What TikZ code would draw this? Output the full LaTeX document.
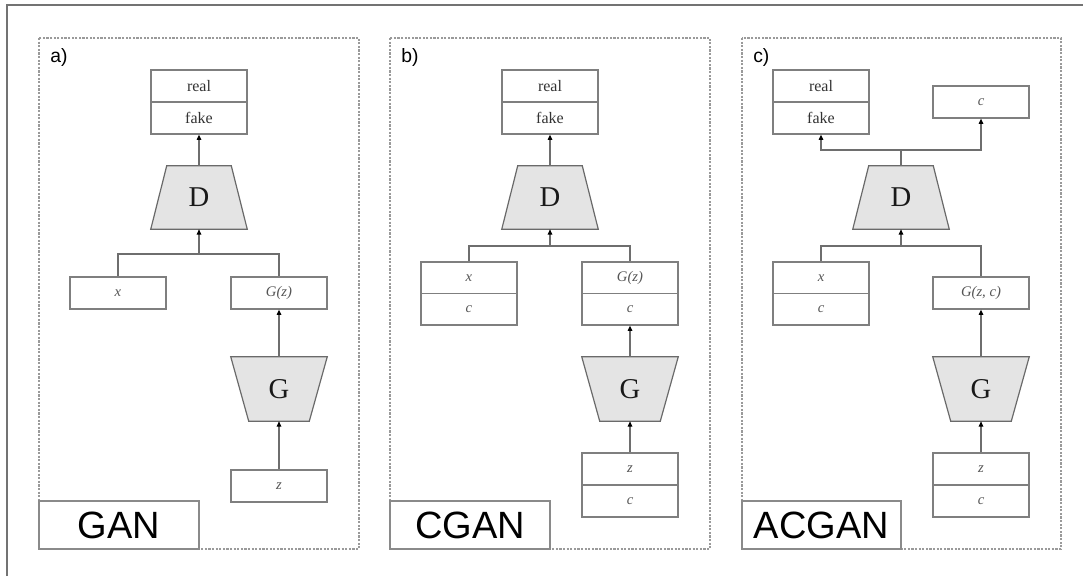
\documentclass[tikz,border=0pt]{standalone}
\usepackage{fontspec}
\setmainfont{Liberation Serif}
\newfontfamily\labelfont{Liberation Sans}
\usetikzlibrary{arrows.meta,calc}

\definecolor{boxline}{HTML}{7F7F7F}
\definecolor{netline}{HTML}{6A6A6A}
\definecolor{netfill}{HTML}{E4E4E4}
\definecolor{wire}{HTML}{6E6E6E}
\definecolor{frameline}{HTML}{9A9A9A}
\definecolor{outerline}{HTML}{8A8A8A}
\definecolor{txtdark}{HTML}{333333}
\definecolor{txtsoft}{HTML}{555555}

\tikzset{
  cell/.style={draw=boxline, line width=0.9pt, fill=white, minimum width=72pt, minimum height=24pt,
    inner sep=0pt, font=\fontsize{12}{14}\selectfont, text=txtdark},
  vcell/.style={cell, font=\fontsize{11}{13}\selectfont\itshape, text=txtsoft},
  vhalf/.style={vcell, minimum height=23.625pt},
  netD/.style={minimum width=72pt, minimum height=47.25pt, inner sep=0pt, font=\fontsize{21.5}{24}\selectfont, text=black!90},
  netshape/.style={draw=netline, line width=0.9pt, fill=netfill},
  wireline/.style={draw=wire, line width=0.9pt},
  arr/.style={wireline, -{Triangle[length=4pt,width=3.4pt,color=black]}},
  panelframe/.style={draw=frameline, line width=0.8pt, dash pattern=on 1.6pt off 1.1pt},
  namebox/.style={draw=outerline, line width=1pt, fill=white, minimum width=120pt, minimum height=36pt,
    inner sep=0pt, font=\labelfont\fontsize{28.5}{30}\selectfont},
  tag/.style={anchor=base west, inner sep=0pt, font=\labelfont\fontsize{14.5}{16}\selectfont},
}

\begin{document}
\begin{tikzpicture}[x=0.75pt, y=-0.75pt]
\useasboundingbox (0,0) rectangle (1083,576);
% outer frame edges
\draw[draw=gray!90!black, line width=1.1pt] (7,576) -- (7,5) -- (1083,5);

% ---------------- panel a: GAN ----------------
\begin{scope}
  \draw[panelframe] (39,38) rectangle (359,549);
  \node[tag] (taga) at (50,62) {a)};
  \node[cell] (reala) at (199,86) {real};
  \node[cell] (fakea) at (199,118) {fake};
  \node[netD] (Da) at (199,197.5) {};
  \fill[netshape] ($(Da.north west)+(16,0)$) -- ($(Da.north east)+(-16,0)$) -- (Da.south east) -- (Da.south west) -- cycle;
  \node[netD] at (Da) {D};
  \node[vcell] (xa) at (118,293) {x};
  \node[vcell] (gza) at (279,293) {G(z)};
  \node[netD, minimum height=48pt] (Ga) at (279,389) {};
  \fill[netshape] (Ga.north west) -- (Ga.north east) -- ($(Ga.south east)+(-18,0)$) -- ($(Ga.south west)+(18,0)$) -- cycle;
  \node[netD] at (Ga) {G};
  \node[vcell] (za) at (279,486) {z};
  \coordinate (ja) at (199,254);
  \draw[arr] (Da.north) -- (fakea.south);
  \draw[wireline] (xa.north) |- (ja) -| (gza.north);
  \draw[arr] (ja) -- (Da.south);
  \draw[arr] (Ga.north) -- (gza.south);
  \draw[arr] (za.north) -- (Ga.south);
  \node[namebox] (namea) at (119,525) {GAN};
\end{scope}

% ---------------- panel b: CGAN ----------------
\begin{scope}[shift={(351,0)}]
  \draw[panelframe] (39,38) rectangle (359,549);
  \node[tag] (tagb) at (50,62) {b)};
  \node[cell] (realb) at (199,86) {real};
  \node[cell] (fakeb) at (199,118) {fake};
  \node[netD] (Db) at (199,197.5) {};
  \fill[netshape] ($(Db.north west)+(16,0)$) -- ($(Db.north east)+(-16,0)$) -- (Db.south east) -- (Db.south west) -- cycle;
  \node[netD] at (Db) {D};
  \node[vhalf] (xb) at (118,277.75) {x};
  \node[vhalf] (xcb) at (118,309.25) {c};
  \node[vhalf] (gzb) at (279,277.75) {G(z)};
  \node[vhalf] (gcb) at (279,309.25) {c};
  \node[netD, minimum height=48pt] (Gb) at (279,389) {};
  \fill[netshape] (Gb.north west) -- (Gb.north east) -- ($(Gb.south east)+(-18,0)$) -- ($(Gb.south west)+(18,0)$) -- cycle;
  \node[netD] at (Gb) {G};
  \node[vcell] (zb) at (279,469) {z};
  \node[vcell] (zcb) at (279,501) {c};
  \coordinate (jb) at (199,246);
  \draw[arr] (Db.north) -- (fakeb.south);
  \draw[wireline] (xb.north) |- (jb) -| (gzb.north);
  \draw[arr] (jb) -- (Db.south);
  \draw[arr] (Gb.north) -- (gcb.south);
  \draw[arr] (zb.north) -- (Gb.south);
  \node[namebox] (nameb) at (119,525) {CGAN};
\end{scope}

% ---------------- panel c: ACGAN ----------------
\begin{scope}[shift={(703,0)}]
  \draw[panelframe] (39,38) rectangle (358,549);
  \node[tag] (tagc) at (50,62) {c)};
  \node[cell] (realc) at (118,86) {real};
  \node[cell] (fakec) at (118,118) {fake};
  \node[vcell] (cc) at (278,102) {c};
  \node[netD] (Dc) at (198,197.5) {};
  \fill[netshape] ($(Dc.north west)+(16,0)$) -- ($(Dc.north east)+(-16,0)$) -- (Dc.south east) -- (Dc.south west) -- cycle;
  \node[netD] at (Dc) {D};
  \node[vhalf] (xc) at (118,277.75) {x};
  \node[vhalf] (xcc) at (118,309.25) {c};
  \node[vcell] (gzc) at (278,293) {G(z, c)};
  \node[netD, minimum height=48pt] (Gc) at (278,389) {};
  \fill[netshape] (Gc.north west) -- (Gc.north east) -- ($(Gc.south east)+(-18,0)$) -- ($(Gc.south west)+(18,0)$) -- cycle;
  \node[netD] at (Gc) {G};
  \node[vcell] (zc) at (278,469) {z};
  \node[vcell] (zcc) at (278,501) {c};
  \coordinate (jc) at (198,246);
  \coordinate (oc) at (198,150);
  \draw[wireline] (Dc.north) -- (oc);
  \draw[arr] (oc) -| (fakec.south);
  \draw[arr] (oc) -| (cc.south);
  \draw[wireline] (xc.north) |- (jc) -| (gzc.north);
  \draw[arr] (jc) -- (Dc.south);
  \draw[arr] (Gc.north) -- (gzc.south);
  \draw[arr] (zc.north) -- (Gc.south);
  \node[namebox, minimum width=119.25pt] (namec) at (118.5,525) {ACGAN};
\end{scope}
\end{tikzpicture}
\end{document}
